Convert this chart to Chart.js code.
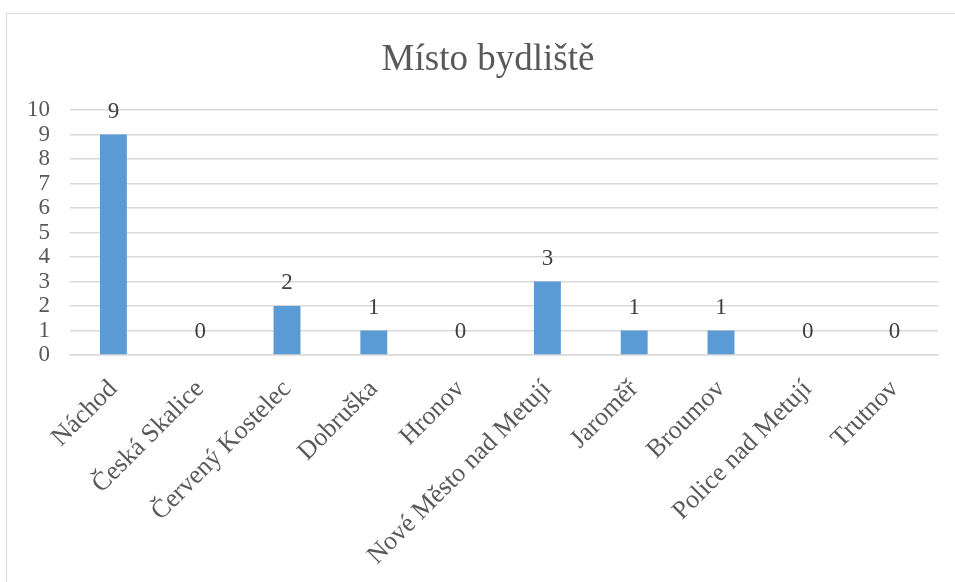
<!DOCTYPE html>
<html>
<head>
<meta charset="utf-8">
<script src="https://cdn.jsdelivr.net/npm/chart.js@4/dist/chart.umd.min.js"></script>
<style>
  html, body { margin: 0; padding: 0; background: #fff; }
  #wrap { position: relative; width: 955px; height: 582px; overflow: hidden; }
  #frame { position: absolute; left: 6px; top: 13px; width: 980px; height: 600px; border: 1.5px solid #d9d9d9; }
  canvas { position: absolute; left: 0; top: 0; }
</style>
</head>
<body>
<div id="wrap">
  <div id="frame"></div>
  <canvas id="myChart" width="955" height="582"></canvas>
</div>
<script>
const title = 'Místo bydliště';
const categories = ['Náchod', 'Česká Skalice', 'Červený Kostelec', 'Dobruška', 'Hronov',
  'Nové Město nad Metují', 'Jaroměř', 'Broumov', 'Police nad Metují', 'Trutnov'];
const values = [9, 0, 2, 1, 0, 3, 1, 1, 0, 0];
const yTicks = [0, 1, 2, 3, 4, 5, 6, 7, 8, 9, 10];

const serif = "'Liberation Serif', 'Times New Roman', serif";

// value above each bar + the title (centred on the frame, not the canvas)
const valueLabels = {
  id: 'valueLabels',
  afterDatasetsDraw(chart) {
    const ctx = chart.ctx;
    const meta = chart.getDatasetMeta(0);
    ctx.save();
    ctx.font = '23px ' + serif;
    ctx.fillStyle = '#404040';
    ctx.textAlign = 'center';
    ctx.textBaseline = 'middle';
    meta.data.forEach((bar, i) => {
      ctx.fillText(String(values[i]), bar.x, bar.y - 23);
    });
    ctx.font = '37px ' + serif;
    ctx.fillStyle = '#595959';
    ctx.fillText(title, 488, 60);
    ctx.restore();
  }
};

new Chart(document.getElementById('myChart'), {
  type: 'bar',
  data: {
    labels: categories,
    datasets: [{
      data: values,
      backgroundColor: '#5b9bd5',
      barPercentage: 0.62,
      categoryPercentage: 0.5
    }]
  },
  plugins: [valueLabels],
  options: {
    responsive: false,
    animation: false,
    layout: { padding: { left: 0, right: 17, top: 110, bottom: 0 } },
    plugins: {
      legend: { display: false },
      tooltip: { enabled: false },
      title: { display: false }
    },
    scales: {
      x: {
        grid: { display: false, drawTicks: false },
        border: { display: true, color: '#d9d9d9', width: 1.5 },
        ticks: {
          color: '#595959',
          font: { family: serif, size: 26 },
          maxRotation: 45,
          minRotation: 45,
          autoSkip: false,
          padding: 19
        },
        afterFit(scale) { scale.height = 227; }
      },
      y: {
        min: 0,
        max: 10,
        afterBuildTicks(scale) { scale.ticks = yTicks.map(v => ({ value: v })); },
        grid: { color: '#d9d9d9', lineWidth: 1.5, drawTicks: false },
        border: { display: false },
        ticks: {
          color: '#595959',
          font: { family: serif, size: 23 },
          padding: 20,
          autoSkip: false
        },
        afterFit(scale) { scale.width = 70; }
      }
    }
  }
});
</script>
</body>
</html>
